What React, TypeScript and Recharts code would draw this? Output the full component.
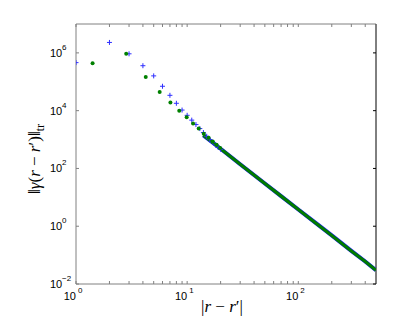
import React from 'react';
import { ComposedChart, Scatter, XAxis, YAxis } from 'recharts';

// integer separations (blue +)
const blueR = [1, 2, 3, 4, 5, 6, 7, 8, 9, 10, 11, 12, 13, 14, 15, 16, 17, 18, 19, 20];
const blueVal = [4.6e5, 2.3e6, 9.3e5, 3.6e5, 1.6e5, 7.0e4, 3.4e4, 1.8e4, 1.05e4, 6.9e3, 4.7e3, 3.3e3, 2.4e3, 1.75e3, 1.3e3, 1.0e3, 8.0e2, 6.5e2, 5.4e2, 4.6e2];

// diagonal separations (green dots)
const greenR = [1.41, 2.83, 4.24, 5.66, 7.07, 8.49, 9.9, 11.3, 12.7, 14.1, 15.6, 17.0, 18.4, 19.8];
const greenVal = [4.4e5, 9.3e5, 1.45e5, 4.4e4, 1.9e4, 1.0e4, 5.9e3, 3.6e3, 2.4e3, 1.6e3, 1.15e3, 8.6e2, 6.6e2, 5.1e2];

// dense tail, where the markers merge into a band
const tailR = [14, 20, 30, 50, 70, 100, 150, 200, 300, 400, 500];
const tailVal = [1.4e3, 4.8e2, 1.4e2, 30, 11, 3.8, 1.13, 0.48, 0.14, 0.06, 0.03];

const xTicks = [1, 2, 3, 4, 5, 6, 7, 8, 9, 10, 20, 30, 40, 50, 60, 70, 80, 90, 100, 200, 300, 400, 500];
const yTicks = [1e-2, 1, 1e2, 1e4, 1e6];

const PLOT_TOP = 24;
const PLOT_BOTTOM = 284;
const PLOT_LEFT = 76;
const PLOT_RIGHT = 376;

const toPts = (xs: number[], ys: number[]) => xs.map((x, i) => ({ x, y: ys[i] }));
const blueData = toPts(blueR, blueVal);
const greenData = toPts(greenR, greenVal);
const tailData = toPts(tailR, tailVal);

const FONT = '"Liberation Sans", Arial, Helvetica, sans-serif';
const SERIF = '"Liberation Serif", "Times New Roman", serif';
const AXIS = '#808080';

function XTick({ x, payload }: any) {
  const v = payload.value as number;
  const e = Math.log10(v);
  const major = Math.abs(e - Math.round(e)) < 1e-9;
  return (
    <g>
      <line x1={x} x2={x} y1={PLOT_BOTTOM} y2={PLOT_BOTTOM - 3} stroke={AXIS} />
      <line x1={x} x2={x} y1={PLOT_TOP} y2={PLOT_TOP + 3} stroke={AXIS} />
      {major && (
        <g fontFamily={FONT} fill="#000">
          <text x={x} y={300} textAnchor="end" fontSize={11}>10</text>
          <text x={x + 2} y={293} textAnchor="start" fontSize={8}>{Math.round(e)}</text>
        </g>
      )}
    </g>
  );
}

function YTick({ y, payload }: any) {
  const e = Math.round(Math.log10(payload.value as number));
  return (
    <g>
      <line x1={PLOT_LEFT} x2={PLOT_LEFT + 3} y1={y} y2={y} stroke={AXIS} />
      <line x1={PLOT_RIGHT - 3} x2={PLOT_RIGHT} y1={y} y2={y} stroke="#000" />
      <g fontFamily={FONT} fill="#000">
        <text x={50} y={y + 4} fontSize={11}>10</text>
        <text x={62} y={y - 3} fontSize={8}>{e < 0 ? '\u2212' + Math.abs(e) : e}</text>
      </g>
    </g>
  );
}

const Plus = ({ cx, cy }: any) => (
  <path d={`M${cx - 2.5},${cy}H${cx + 2.5}M${cx},${cy - 2.5}V${cy + 2.5}`} stroke="#2f2fff" strokeWidth={1} fill="none" />
);
const Dot = ({ cx, cy }: any) => <circle cx={cx} cy={cy} r={2} fill="#008000" />;
const NoMark = () => <g />;

export default function App() {
  return (
    <div style={{ position: 'absolute', left: 0, top: 0, width: 415, height: 322, background: '#fff' }}>
      <ComposedChart width={415} height={322} margin={{ top: PLOT_TOP, right: 415 - PLOT_RIGHT, bottom: 0, left: 0 }}>
        <XAxis
          dataKey="x"
          type="number"
          scale="log"
          domain={[1, 500]}
          ticks={xTicks}
          allowDataOverflow
          height={38}
          tickSize={0}
          tickMargin={0}
          tickLine={false}
          axisLine={false}
          tick={<XTick />}
          interval={0}
        />
        <YAxis
          dataKey="y"
          type="number"
          scale="log"
          domain={[1e-2, 1e7]}
          ticks={yTicks}
          allowDataOverflow
          width={PLOT_LEFT}
          tickSize={0}
          tickMargin={0}
          tickLine={false}
          axisLine={false}
          tick={<YTick />}
          interval={0}
        />
        <Scatter data={tailData} line={{ stroke: '#1a1aff', strokeWidth: 4 }} lineType="joint" shape={<NoMark />} isAnimationActive={false} />
        <Scatter data={tailData} line={{ stroke: '#007a00', strokeWidth: 3.2 }} lineType="joint" shape={<NoMark />} isAnimationActive={false} />
        <Scatter data={blueData} shape={<Plus />} isAnimationActive={false} />
        <Scatter data={greenData} shape={<Dot />} isAnimationActive={false} />
        <path
          d={`M${PLOT_LEFT},${PLOT_TOP}V${PLOT_BOTTOM}H${PLOT_RIGHT}M${PLOT_LEFT},${PLOT_TOP}H${PLOT_RIGHT}`}
          stroke={AXIS}
          fill="none"
        />
        <path d={`M${PLOT_RIGHT},${PLOT_TOP}V${PLOT_BOTTOM}`} stroke="#000" fill="none" />
        <text transform="translate(40,159) rotate(-90)" textAnchor="middle" fontFamily={SERIF} fontSize={17} fill="#000">
          <tspan>‖</tspan>
          <tspan fontStyle="italic">γ</tspan>
          <tspan>(</tspan>
          <tspan fontStyle="italic">r</tspan>
          <tspan> − </tspan>
          <tspan fontStyle="italic">r</tspan>
          <tspan>′)‖</tspan>
          <tspan fontSize={12} dy={4}>tr</tspan>
        </text>
        <text x={222} y={312} textAnchor="middle" fontFamily={SERIF} fontSize={17} fill="#000">
          <tspan>|</tspan>
          <tspan fontStyle="italic">r</tspan>
          <tspan> − </tspan>
          <tspan fontStyle="italic">r</tspan>
          <tspan>′|</tspan>
        </text>
      </ComposedChart>
    </div>
  );
}
